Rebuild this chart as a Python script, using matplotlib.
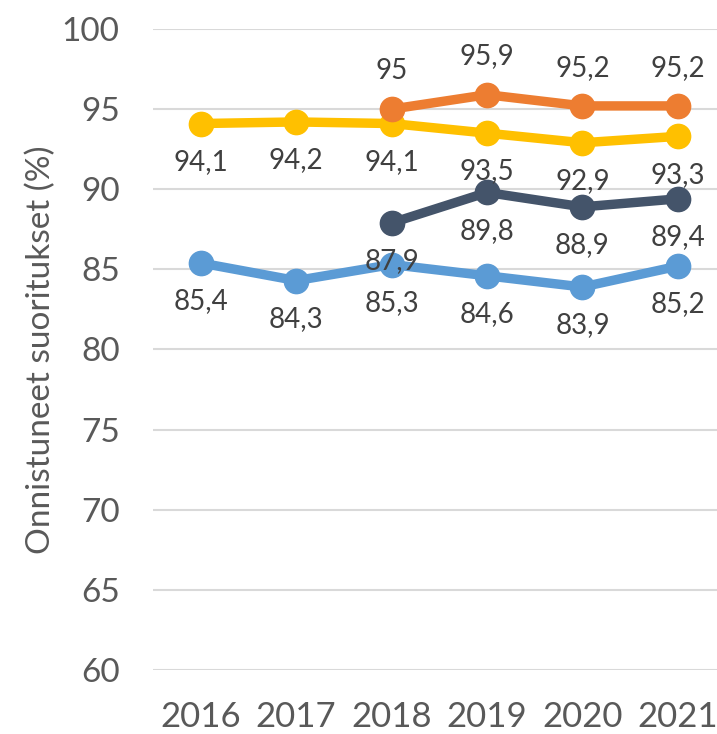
import matplotlib
matplotlib.use("Agg")
import matplotlib.pyplot as plt

# vuodet ja sarjat
years = ["2016", "2017", "2018", "2019", "2020", "2021"]
orange = [None, None, 95.0, 95.9, 95.2, 95.2]
yellow = [94.1, 94.2, 94.1, 93.5, 92.9, 93.3]
dark = [None, None, 87.9, 89.8, 88.9, 89.4]
blue = [85.4, 84.3, 85.3, 84.6, 83.9, 85.2]

y_ticks = [60, 65, 70, 75, 80, 85, 90, 95, 100]


def fmt(v):
    # suomalainen desimaalipilkku, kokonaisluvut ilman desimaalia
    if v == int(v):
        return str(int(v))
    return f"{v:.1f}".replace('.', ',')


plt.rcParams['font.family'] = ['Lato', 'DejaVu Sans']

fig = plt.figure(figsize=(7.17, 7.34), dpi=100)
ax = fig.add_axes([0.2134, 0.0872, 0.7866, 0.8733])

series = [
    (blue, '#5B9BD5', -1),
    (dark, '#44546A', -1),
    (yellow, '#FFC000', -1),
    (orange, '#ED7D31', 1),
]

for values, color, side in series:
    xs = [i for i, v in enumerate(values) if v is not None]
    ys = [v for v in values if v is not None]
    ax.plot(xs, ys, color=color, lw=6.8, marker='o', markersize=17.5,
            solid_capstyle='round', zorder=3)
    for x, y in zip(xs, ys):
        ax.annotate(fmt(y), (x, y), xytext=(0, 27.5 * side),
                    textcoords='offset points', ha='center', va='center',
                    fontsize=20, color='#404040', zorder=4)

ax.set_ylim(60, 100)
ax.set_xlim(-0.5, 5.41)
ax.set_yticks(y_ticks)
ax.set_xticks(range(len(years)))
ax.set_xticklabels(years)
ax.yaxis.grid(True, color='#d9d9d9', lw=1.5)
ax.set_axisbelow(True)
for s in ax.spines.values():
    s.set_visible(False)
ax.tick_params(axis='y', length=0, pad=24, labelsize=24, labelcolor='#595959')
ax.tick_params(axis='x', length=0, pad=22, labelsize=25, labelcolor='#595959')
ax.set_ylabel('Onnistuneet suoritukset (%)', fontsize=24, color='#595959', labelpad=4)

fig.savefig('out.png', dpi=100)
